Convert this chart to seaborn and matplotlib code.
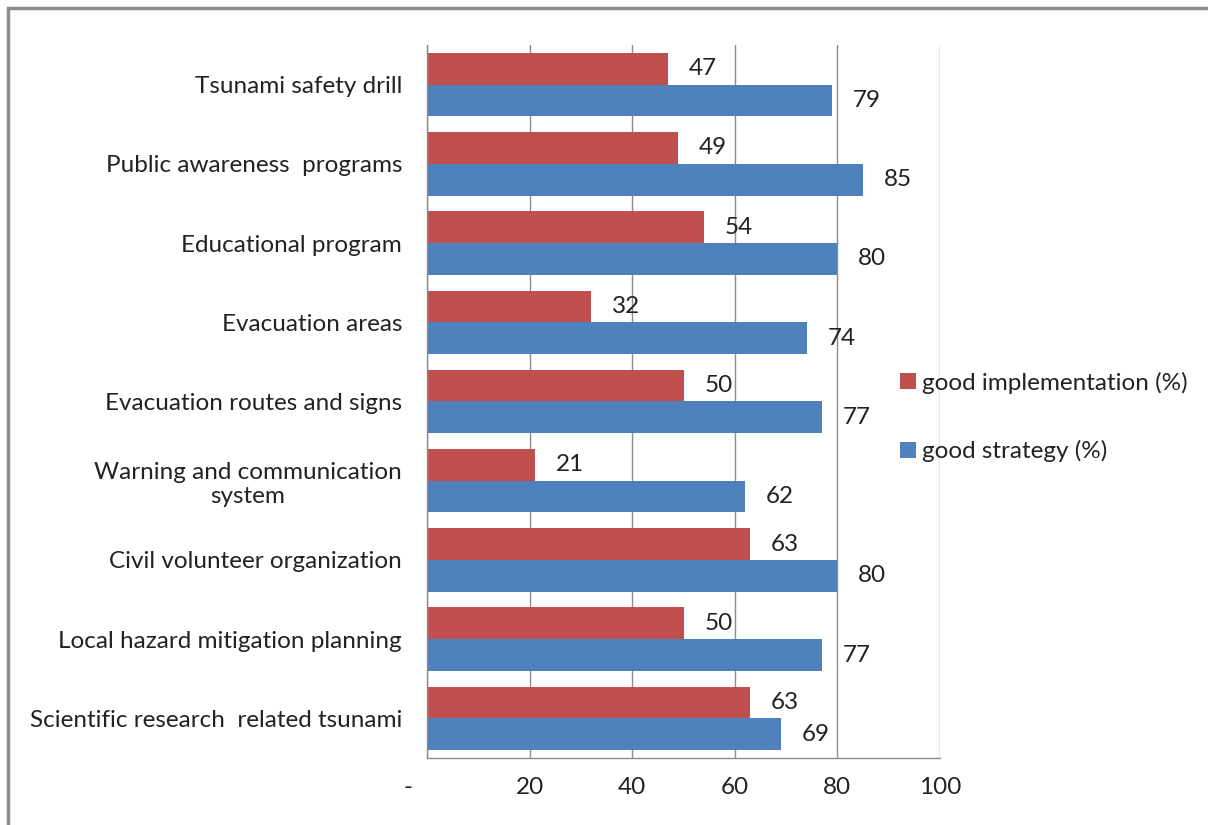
import matplotlib
matplotlib.use("Agg")
import matplotlib.pyplot as plt
import seaborn as sns
import pandas as pd
from matplotlib.patches import Rectangle

categories = [
    "Tsunami safety drill",
    "Public awareness  programs",
    "Educational program",
    "Evacuation areas",
    "Evacuation routes and signs",
    "Warning and communication\nsystem",
    "Civil volunteer organization",
    "Local hazard mitigation planning",
    "Scientific research  related tsunami",
]
implementation = [47, 49, 54, 32, 50, 21, 63, 50, 63]
strategy = [79, 85, 80, 74, 77, 62, 80, 77, 69]
series_names = ["good implementation (%)", "good strategy (%)"]
x_ticks = [0, 20, 40, 60, 80, 100]
x_ticklabels = ["-      ", "20", "40", "60", "80", "100"]

df = pd.DataFrame({
    "category": categories * 2,
    "value": implementation + strategy,
    "series": [series_names[0]] * len(categories) + [series_names[1]] * len(categories),
})

sns.set_style("white")
plt.rcParams["font.family"] = ["Lato", "DejaVu Sans"]
FS = 17.5

fig = plt.figure(figsize=(12.08, 8.25), dpi=100)
ax = fig.add_axes([427 / 1208, 1 - 758 / 825, (940 - 427) / 1208, (758 - 45) / 825])

palette = {series_names[0]: "#C0504D", series_names[1]: "#4F81BD"}
sns.barplot(data=df, y="category", x="value", hue="series", palette=palette,
            orient="h", ax=ax, width=0.8, saturation=1, order=categories,
            hue_order=series_names, edgecolor="none")

ax.set_xlim(0, 100)
ax.set_xticks(x_ticks)
ax.set_xticklabels(x_ticklabels, fontsize=FS, color="#222222")
ax.tick_params(axis="x", length=0, pad=14)
ax.tick_params(axis="y", length=0, pad=18, labelsize=FS, labelcolor="#222222")
for lbl in ax.get_yticklabels():
    lbl.set_multialignment("center")
ax.set_xlabel("")
ax.set_ylabel("")
ax.xaxis.grid(True, color="#8c8c8c", linewidth=1)
ax.set_axisbelow(True)
for s in ["top", "right"]:
    ax.spines[s].set_visible(False)
for s in ["left", "bottom"]:
    ax.spines[s].set_color("#8c8c8c")
    ax.spines[s].set_linewidth(1)

for cont in ax.containers:
    ax.bar_label(cont, labels=[f"{int(v)}" for v in cont.datavalues],
                 padding=15, fontsize=FS, color="#222222")

handles, labels = ax.get_legend_handles_labels()
leg = ax.legend(handles, labels, loc="center left", bbox_to_anchor=(900 / 1208, 1 - 417 / 825),
                bbox_transform=fig.transFigure, frameon=False, fontsize=FS,
                handlelength=0.65, handleheight=0.65, handletextpad=0.25,
                labelspacing=1.9, borderaxespad=0, borderpad=0)
for t in leg.get_texts():
    t.set_color("#222222")

fig.patches.append(Rectangle((8 / 1208, -0.01), 1.02, 1 - 8 / 825 + 0.01,
                             transform=fig.transFigure, fill=False,
                             edgecolor="#8c8c8c", linewidth=2.5, zorder=10))

fig.savefig("out.png", dpi=100)
